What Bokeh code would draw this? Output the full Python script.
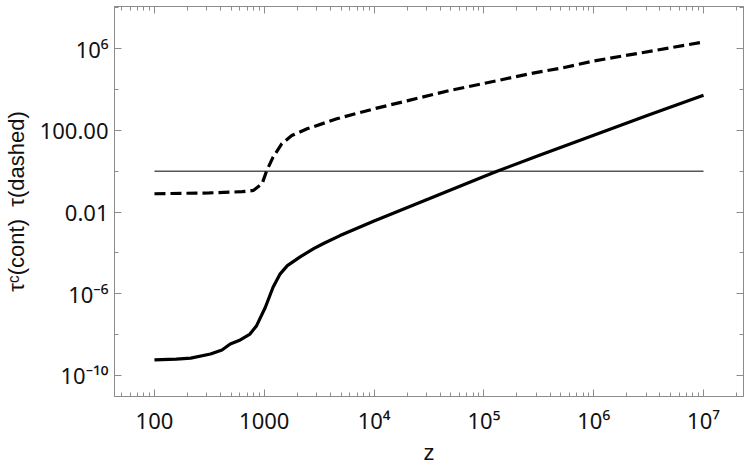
import math
from bokeh.plotting import figure
from bokeh.models import LogAxis, FixedTicker, Range1d, CustomJSTickFormatter
from bokeh.embed import file_html
from bokeh.resources import INLINE

# ---- data (z, tau) ----
solid_z = [100, 158, 214, 324, 412, 490, 589, 741, 851, 1023, 1202, 1396, 1622,
           2138, 2818, 3500, 4898, 7000, 10000, 31623, 100000, 131826, 316228,
           1.0e6, 3.16e6, 1.0e7]
solid_tau = [5.75e-10, 6.3e-10, 7.1e-10, 1.12e-9, 1.78e-9, 3.47e-9, 5.13e-9, 1.07e-8,
             2.75e-8, 2.19e-7, 2.09e-6, 9.5e-6, 2.4e-5, 6.6e-5, 1.62e-4, 3.0e-4,
             7.1e-4, 1.62e-3, 3.7e-3, 4.47e-2, 0.55, 1.0, 6.0, 58.9, 575, 5250]

dashed_z = [100, 316, 631, 794, 955, 1047, 1202, 1445, 1778, 2455, 4571, 10000,
            19953, 48978, 100000, 263027, 524807, 1.0e6, 2.63e6, 1.0e7]
dashed_tau = [0.0794, 0.0871, 0.1, 0.115, 0.245, 1.0, 4.9, 22.4, 56.2, 120, 372,
              1148, 2818, 9120, 19953, 60256, 117490, 251189, 616595, 2.14e6]

ref_z = [100, 1.0e7]
ref_tau = [1.0, 1.0]

x_major = [100, 1000, 1e4, 1e5, 1e6, 1e7]
x_labels = ["100", "1000", "10\u2074", "10\u2075", "10\u2076", "10\u2077"]
y_major = [1e-10, 1e-6, 1e-2, 1e2, 1e6]
y_labels = ["10\u207b\u00b9\u2070", "10\u207b\u2076", "0.01", "100.00", "10\u2076"]
y_minor = [1e-12, 1e-8, 1e-4, 1.0, 1e4, 1e8]

x_title = "z"
y_title = "\u03c4\u1d9c(cont)\u00a0\u00a0\u03c4(dashed)"

TICK_FONT = "Noto Sans"
FONT = "Liberation Sans"
FS = "22px"
GRAY = "#8c8c8c"
TXT = "#111111"

x_minor = [m * 10 ** e for e in range(1, 8) for m in range(2, 10)]

p = figure(width=750, height=467, x_axis_type="log", y_axis_type="log",
           x_range=Range1d(10 ** 1.636, 10 ** 7.364),
           y_range=Range1d(10 ** -11.03, 10 ** 8.07),
           output_backend="svg", toolbar_location=None,
           min_border_left=114, min_border_right=7, min_border_top=6,
           min_border_bottom=71)
p.background_fill_color = "white"
p.border_fill_color = "white"
p.outline_line_color = GRAY
p.xgrid.visible = False
p.ygrid.visible = False


def make_formatter(vals, labels):
    return CustomJSTickFormatter(
        args=dict(vals=[math.log10(v) for v in vals], labels=labels),
        code="""
        const l = Math.log10(tick);
        for (let i = 0; i < vals.length; i++) {
            if (Math.abs(vals[i] - l) < 1e-6) { return labels[i]; }
        }
        return '';
        """)


blank = CustomJSTickFormatter(code="return '';")


def style(ax):
    ax.axis_line_color = GRAY
    ax.major_tick_line_color = GRAY
    ax.minor_tick_line_color = GRAY
    ax.major_tick_in = 7
    ax.major_tick_out = 0
    ax.minor_tick_in = 4
    ax.minor_tick_out = 0
    ax.major_label_text_font = TICK_FONT
    ax.major_label_text_font_size = FS
    ax.major_label_text_color = TXT
    ax.axis_label_text_font = FONT
    ax.axis_label_text_font_size = FS
    ax.axis_label_text_font_style = "normal"
    ax.axis_label_text_color = TXT


xa = p.xaxis[0]
xa.ticker = FixedTicker(ticks=x_major, minor_ticks=x_minor)
style(xa)
xa.formatter = make_formatter(x_major, x_labels)
xa.major_label_standoff = 8
xa.axis_label = x_title
xa.axis_label_standoff = 2

ya = p.yaxis[0]
ya.ticker = FixedTicker(ticks=y_major, minor_ticks=y_minor)
style(ya)
ya.formatter = make_formatter(y_major, y_labels)
ya.major_label_standoff = 6
ya.axis_label = y_title
ya.axis_label_standoff = 8

for place, tk in (("above", (x_major, x_minor)), ("right", (y_major, y_minor))):
    ax = LogAxis(ticker=FixedTicker(ticks=tk[0], minor_ticks=tk[1]), formatter=blank)
    style(ax)
    ax.major_label_standoff = 0
    ax.major_label_text_font_size = "2px"
    p.add_layout(ax, place)

p.line(ref_z, ref_tau, line_color="#555555", line_width=1.6)
p.line(dashed_z, dashed_tau, line_color="black", line_width=3.2, line_dash="11 5")
p.line(solid_z, solid_tau, line_color="black", line_width=3.2)

open("out.html", "w").write(file_html(p, INLINE))
